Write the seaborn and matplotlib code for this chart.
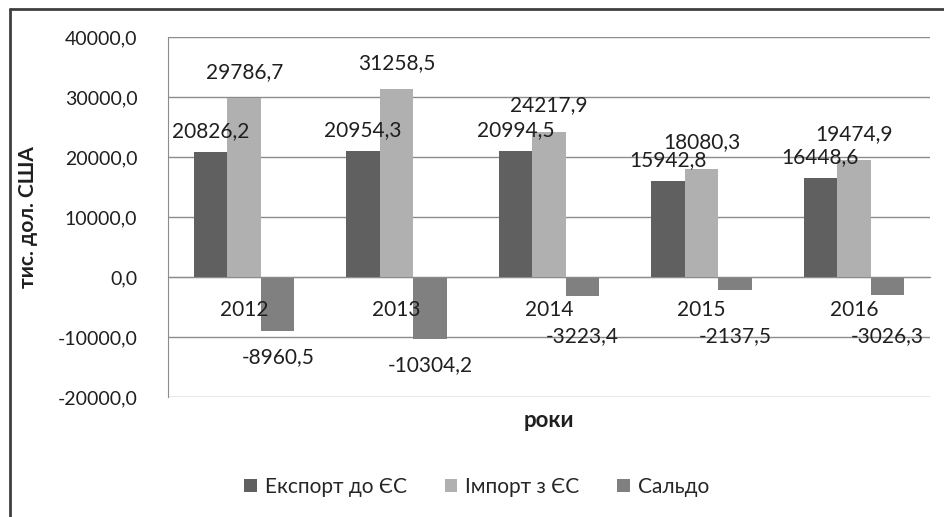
import pandas as pd
import seaborn as sns
import matplotlib.pyplot as plt
from matplotlib.lines import Line2D
from matplotlib.ticker import FuncFormatter, FixedLocator

# data
years = ['2012', '2013', '2014', '2015', '2016']
export_eu = [20826.2, 20954.3, 20994.5, 15942.8, 16448.6]
import_eu = [29786.7, 31258.5, 24217.9, 18080.3, 19474.9]
saldo = [-8960.5, -10304.2, -3223.4, -2137.5, -3026.3]
series = ['Експорт до ЄС', 'Імпорт з ЄС', 'Сальдо']
y_ticks = [-20000, -10000, 0, 10000, 20000, 30000, 40000]

df = pd.DataFrame({'рік': years, series[0]: export_eu, series[1]: import_eu, series[2]: saldo})
df = df.melt(id_vars='рік', var_name='серія', value_name='значення')

colors = {series[0]: '#606060', series[1]: '#b0b0b0', series[2]: '#808080'}
text_c = '#1f1f1f'
grid_c = '#8c8c8c'

sns.set_style('white')
plt.rcParams['font.family'] = ['Lato', 'Noto Sans', 'DejaVu Sans']

fig = plt.figure(figsize=(9.44, 5.17), dpi=100)
ax = fig.add_axes([168 / 944, 1 - 397 / 517, 762 / 944, 360 / 517])

sns.barplot(data=df, x='рік', y='значення', hue='серія', palette=colors,
            width=0.66, saturation=1, ax=ax, linewidth=0)

ax.set_ylim(-20000, 40000)
ax.set_xlim(-0.5, len(years) - 0.5)
ax.yaxis.set_major_locator(FixedLocator(y_ticks))
ax.yaxis.set_major_formatter(FuncFormatter(lambda v, p: f'{v:.1f}'.replace('.', ',')))
ax.grid(axis='y', color=grid_c, linewidth=1)
ax.set_axisbelow(True)
ax.tick_params(axis='y', length=8, color=grid_c, labelsize=14, labelcolor=text_c, pad=14)

# x axis runs through zero, ticks between categories
for s in ['top', 'right']:
    ax.spines[s].set_visible(False)
ax.spines['left'].set_color(grid_c)
ax.spines['bottom'].set_position(('data', 0))
ax.spines['bottom'].set_color(grid_c)
ax.xaxis.set_major_locator(FixedLocator([i - 0.5 for i in range(len(years) + 1)]))
ax.set_xticklabels([])
ax.tick_params(axis='x', length=8, color=grid_c, direction='out')

# year labels drawn on top of the bars
for i, yr in enumerate(years):
    ax.annotate(yr, (i, 0), xytext=(0, -24), textcoords='offset points',
                ha='center', va='center', fontsize=15, color=text_c, zorder=6)

# data labels
offsets = [15, 19, -19]
for cont, off in zip(ax.containers, offsets):
    for bar in cont:
        v = bar.get_height()
        xc = bar.get_x() + bar.get_width() / 2
        yv = v if v > 0 else min(v, -5500)
        ax.annotate(f'{v:.1f}'.replace('.', ','), (xc, yv), xytext=(0, off),
                    textcoords='offset points', ha='center', va='center',
                    fontsize=15, color=text_c, zorder=6)

ax.set_xlabel('роки', fontsize=16, fontweight='bold', color=text_c)
ax.xaxis.set_label_coords(0.5, -0.035)
ax.set_ylabel('тис. дол. США', fontsize=15, fontweight='bold', color=text_c)
ax.yaxis.set_label_coords(-0.17, 0.5)

sns.move_legend(ax, 'center', bbox_to_anchor=(0.505, 1 - 487 / 517), bbox_transform=fig.transFigure,
                ncol=3, frameon=False, title=None, fontsize=15, handlelength=0.6,
                handleheight=0.6, handletextpad=0.4, columnspacing=1.8)

# chart frame
fig.add_artist(Line2D([10 / 944, 10 / 944], [0, 1 - 9 / 517], color='#404040', linewidth=2))
fig.add_artist(Line2D([10 / 944, 1], [1 - 9 / 517, 1 - 9 / 517], color='#404040', linewidth=2))

fig.savefig('out.png', dpi=100)
